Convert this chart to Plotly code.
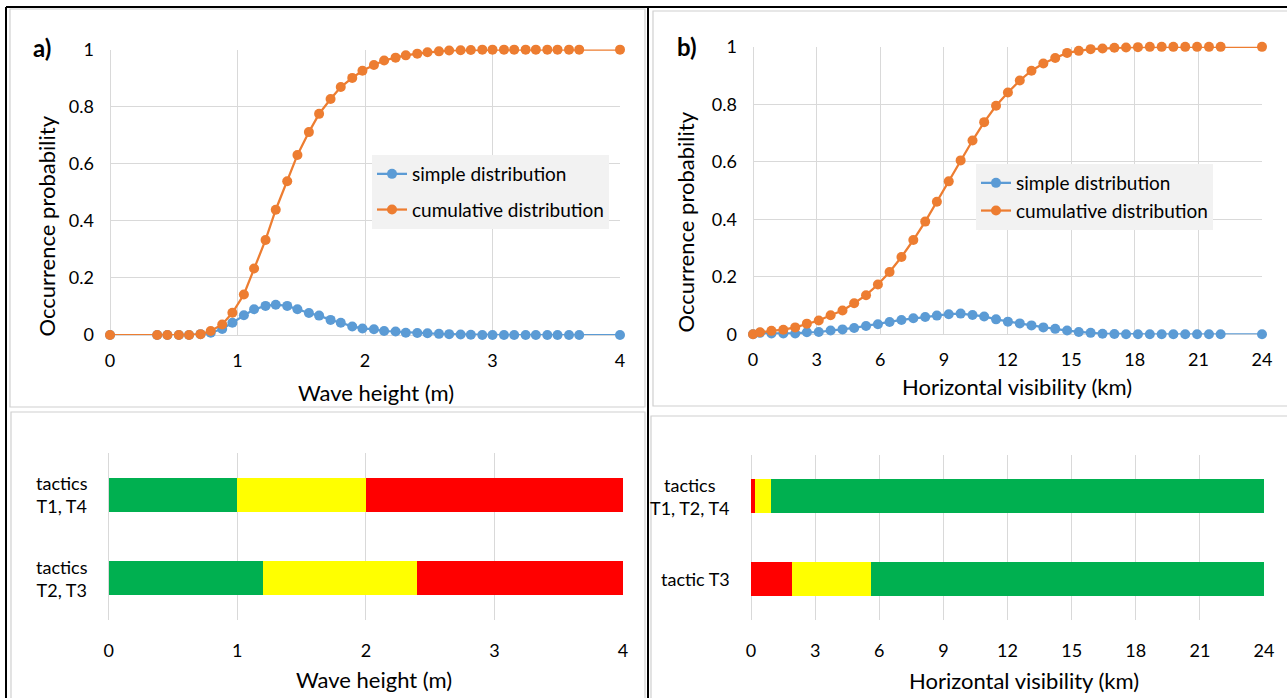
import numpy as np
import plotly.graph_objects as go

# ---------------- data ----------------
wave_x = [0, 0.37, 0.45, 0.54, 0.62, 0.71, 0.79, 0.88, 0.96, 1.05, 1.13,
          1.22, 1.30, 1.39, 1.47, 1.56, 1.64, 1.73, 1.81, 1.90, 1.98,
          2.07, 2.15, 2.24, 2.32, 2.41, 2.49, 2.58, 2.66, 2.75, 2.83,
          2.92, 3.00, 3.09, 3.17, 3.26, 3.34, 3.43, 3.51, 3.60, 3.68, 4.0]
wave_simple = [0, 0, 0, 0, 0, 0.003, 0.008, 0.021, 0.043, 0.069, 0.090,
               0.102, 0.106, 0.102, 0.090, 0.077, 0.068, 0.053, 0.043, 0.030, 0.023,
               0.020, 0.014, 0.012, 0.008, 0.007, 0.006, 0.004, 0.003, 0.002, 0.001,
               0, 0, 0, 0, 0, 0, 0, 0, 0, 0, 0]
wave_cum = [0, 0, 0, 0, 0, 0.003, 0.014, 0.037, 0.078, 0.142, 0.233,
            0.333, 0.439, 0.539, 0.631, 0.711, 0.775, 0.827, 0.869, 0.901, 0.926,
            0.946, 0.962, 0.972, 0.980, 0.986, 0.991, 0.994, 0.997, 0.998, 0.999,
            1, 1, 1, 1, 1, 1, 1, 1, 1, 1, 1]

vis_x = [0, 0.33, 0.87, 1.43, 1.99, 2.54, 3.10, 3.66, 4.22, 4.77, 5.33, 5.89,
         6.44, 7.00, 7.56, 8.12, 8.67, 9.23, 9.79, 10.35, 10.90, 11.46,
         12.02, 12.58, 13.13, 13.69, 14.25, 14.81, 15.36, 15.92, 16.48, 17.04,
         17.59, 18.15, 18.71, 19.27, 19.82, 20.38, 20.94, 21.50, 22.05, 24]
vis_simple = [0, 0.005, 0.003, 0.003, 0.003, 0.007, 0.008, 0.013, 0.017, 0.022, 0.029, 0.035,
              0.043, 0.050, 0.056, 0.060, 0.065, 0.070, 0.072, 0.067, 0.062, 0.052,
              0.044, 0.038, 0.031, 0.024, 0.019, 0.013, 0.008, 0.005, 0.002, 0.001,
              0, 0, 0, 0, 0, 0, 0, 0, 0, 0]
vis_cum = [0, 0.007, 0.012, 0.016, 0.024, 0.037, 0.048, 0.066, 0.083, 0.108, 0.136, 0.173,
           0.217, 0.269, 0.328, 0.392, 0.461, 0.532, 0.605, 0.674, 0.738, 0.795,
           0.841, 0.883, 0.917, 0.942, 0.961, 0.979, 0.986, 0.992, 0.994, 0.997,
           0.998, 0.999, 1, 1, 1, 1, 1, 1, 1, 1]

wave_tactics = ["tactics<br>T1, T4", "tactics<br>T2, T3"]
wave_green_end = [1.0, 1.2]
wave_yellow_end = [2.0, 2.4]
wave_max = [4.0, 4.0]

vis_tactics = ["tactics<br>T1, T2, T4", "tactic T3"]
vis_red_end = [0.19, 1.9]
vis_yellow_end = [0.93, 5.6]
vis_max = [24.0, 24.0]

wave_ticks = [0, 1, 2, 3, 4]
vis_ticks = [0, 3, 6, 9, 12, 15, 18, 21, 24]
prob_ticks = [0, 0.2, 0.4, 0.6, 0.8, 1]

# ---------------- styling ----------------
W, H = 1287, 698
FONT = "Lato"
BLUE = "#5B9BD5"
ORANGE = "#ED7D31"
GREEN = "#00B050"
YELLOW = "#FFFF00"
RED = "#FF0000"
GRID = "#D9D9D9"
TICK_SIZE = 18
TITLE_SIZE = 22
LEGEND_SIZE = 19


def px_x(p):
    return p / W


def px_y(p):
    return 1 - p / H


fig = go.Figure()

# distribution traces
for xs, simple, cum, xa, ya, leg in [
    (wave_x, wave_simple, wave_cum, "x", "y", "legend"),
    (vis_x, vis_simple, vis_cum, "x2", "y2", "legend2"),
]:
    fig.add_trace(go.Scatter(x=xs, y=simple, name="simple distribution", mode="lines+markers",
                             line=dict(color=BLUE, width=2.25), marker=dict(color=BLUE, size=10),
                             xaxis=xa, yaxis=ya, legend=leg, legendgroup=leg + "s", cliponaxis=False))
    fig.add_trace(go.Scatter(x=xs, y=cum, name="cumulative distribution", mode="lines+markers",
                             line=dict(color=ORANGE, width=2.25), marker=dict(color=ORANGE, size=10),
                             xaxis=xa, yaxis=ya, legend=leg, legendgroup=leg + "c", cliponaxis=False))

# wave height bars (green / yellow / red)
wg = np.array(wave_green_end)
wy = np.array(wave_yellow_end)
wm = np.array(wave_max)
for widths, color in [(wg, GREEN), (wy - wg, YELLOW), (wm - wy, RED)]:
    fig.add_trace(go.Bar(y=wave_tactics, x=widths, orientation="h", marker=dict(color=color, line_width=0),
                         xaxis="x3", yaxis="y3", showlegend=False))

# visibility bars (red / yellow / green)
vr = np.array(vis_red_end)
vy = np.array(vis_yellow_end)
vm = np.array(vis_max)
for widths, color in [(vr, RED), (vy - vr, YELLOW), (vm - vy, GREEN)]:
    fig.add_trace(go.Bar(y=vis_tactics, x=widths, orientation="h", marker=dict(color=color, line_width=0),
                         xaxis="x4", yaxis="y4", showlegend=False))

tickfont = dict(family=FONT, size=TICK_SIZE, color="#000000")
common_x = dict(showgrid=True, gridcolor=GRID, gridwidth=1.3, zeroline=True, zerolinecolor=GRID,
                zerolinewidth=1.3, showline=False, ticks="", tickfont=tickfont, automargin=False,
                fixedrange=True)
common_y = dict(showgrid=True, gridcolor=GRID, gridwidth=1.3, zeroline=True, zerolinecolor=GRID,
                zerolinewidth=1.3, showline=False, ticks="", tickfont=tickfont, automargin=False,
                fixedrange=True, range=[0, 1.0005], tickvals=prob_ticks, ticklabelstandoff=15)

fig.update_layout(
    width=W, height=H, margin=dict(l=0, r=0, t=0, b=0, pad=0),
    paper_bgcolor="white", plot_bgcolor="white",
    font=dict(family=FONT, color="#000000"),
    barmode="stack", bargap=0.59,
    xaxis=dict(common_x, domain=[px_x(110), px_x(620)], range=[0, 4], tickvals=wave_ticks,
               anchor="y", ticklabelstandoff=13),
    yaxis=dict(common_y, domain=[px_y(335), px_y(49.5)], anchor="x"),
    xaxis2=dict(common_x, domain=[px_x(753), px_x(1262)], range=[0, 24], tickvals=vis_ticks,
                anchor="y2", ticklabelstandoff=13),
    yaxis2=dict(common_y, domain=[px_y(334.3), px_y(46.7)], anchor="x2"),
    xaxis3=dict(common_x, domain=[px_x(108.7), px_x(623)], range=[0, 4], tickvals=wave_ticks,
                anchor="y3", ticklabelstandoff=18),
    yaxis3=dict(domain=[px_y(620), px_y(453)], anchor="x3", type="category",
                categoryorder="array", categoryarray=wave_tactics, range=[1.5, -0.5],
                showgrid=False, zeroline=False, showline=False, showticklabels=False,
                automargin=False, fixedrange=True),
    xaxis4=dict(common_x, domain=[px_x(751), px_x(1264)], range=[0, 24], tickvals=vis_ticks,
                anchor="y4", ticklabelstandoff=18),
    yaxis4=dict(domain=[px_y(620), px_y(455)], anchor="x4", type="category",
                categoryorder="array", categoryarray=vis_tactics, range=[1.5, -0.5],
                showgrid=False, zeroline=False, showline=False, showticklabels=False,
                automargin=False, fixedrange=True),
    legend=dict(x=px_x(372), y=px_y(155), xanchor="left", yanchor="top", bgcolor="#F2F2F2",
                font=dict(family=FONT, size=LEGEND_SIZE, color="#000000"), tracegroupgap=8,
                traceorder="grouped", itemclick=False),
    legend2=dict(x=px_x(976), y=px_y(164), xanchor="left", yanchor="top", bgcolor="#F2F2F2",
                 font=dict(family=FONT, size=LEGEND_SIZE, color="#000000"), tracegroupgap=0,
                 traceorder="grouped", itemclick=False),
)

ann = []
tfont = dict(family=FONT, size=TITLE_SIZE, color="#000000")
# axis titles
for text, x, y, angle in [
    ("Occurrence probability", 45.5, 226, -90),
    ("Occurrence probability", 685, 222.5, -90),
    ("Wave height (m)", 376, 392, 0),
    ("Horizontal visibility (km)", 1017, 386, 0),
    ("Wave height (m)", 374, 679, 0),
    ("Horizontal visibility (km)", 1024, 680, 0),
]:
    ann.append(dict(text=text, x=px_x(x), y=px_y(y), xref="paper", yref="paper",
                    xanchor="center", yanchor="middle", textangle=angle, showarrow=False, font=tfont))
# panel letters
for text, x, y in [("a)", 42, 48), ("b)", 687, 47)]:
    ann.append(dict(text="<b>" + text + "</b>", x=px_x(x), y=px_y(y), xref="paper", yref="paper",
                    xanchor="center", yanchor="middle", showarrow=False,
                    font=dict(family=FONT, size=24, color="#000000")))
# category labels
for labels, right, yref in [(wave_tactics, 90, "y3"), (vis_tactics, 732, "y4")]:
    for i, lab in enumerate(labels):
        ann.append(dict(text=lab, x=px_x(right), y=i, xref="paper", yref=yref,
                        xanchor="right", yanchor="middle", align="center", showarrow=False,
                        font=dict(family=FONT, size=TICK_SIZE, color="#000000")))
fig.update_layout(annotations=ann)

# frame lines and chart-area borders
shapes = []
BORDER = "#D0D0D0"
for x0, y0, x1, y1 in [(10, 9, 645, 407), (11, 412, 645, 702), (653, 11, 1292, 406), (651, 416, 1292, 702)]:
    shapes.append(dict(type="rect", xref="paper", yref="paper", x0=px_x(x0), x1=px_x(x1),
                       y0=px_y(y1), y1=px_y(y0), line=dict(color=BORDER, width=1.2), layer="below"))
for x0, y0, x1, y1 in [(6, 7, 1290, 7), (6, 7, 6, 700), (648, 7, 648, 700)]:
    shapes.append(dict(type="line", xref="paper", yref="paper", x0=px_x(x0), x1=px_x(x1),
                       y0=px_y(y0), y1=px_y(y1), line=dict(color="#000000", width=2)))
fig.update_layout(shapes=shapes)

fig.write_html("out.html", config={"displayModeBar": False},
               post_script="document.body.style.margin='0';document.body.style.overflow='hidden';")
